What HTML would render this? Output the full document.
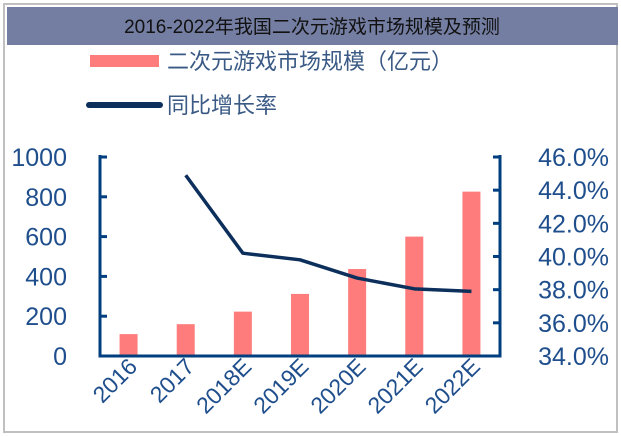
<!DOCTYPE html>
<html><head><meta charset="utf-8"><style>
body{margin:0;background:#fff;}
#wrap{position:relative;width:621px;height:436px;overflow:hidden;font-family:"Liberation Sans","Noto Sans CJK SC",sans-serif;}
</style></head><body>
<div id="wrap">
<svg width="621" height="436" xmlns="http://www.w3.org/2000/svg">
<rect x="4" y="4" width="613" height="428" fill="#fff" stroke="#c0c0c0" stroke-width="2"/>
<rect x="7" y="7" width="611" height="38" fill="#747ea2"/>
<text x="312" y="33" text-anchor="middle" font-size="19" fill="#111" font-family="Liberation Sans, Noto Sans CJK SC, sans-serif">2016-2022年我国二次元游戏市场规模及预测</text>
<rect x="90" y="55" width="69" height="12" fill="#ff7c7c"/>
<text x="167" y="69" font-size="22" fill="#3a5a85" font-family="Liberation Sans, Noto Sans CJK SC, sans-serif">二次元游戏市场规模（亿元）</text>
<line x1="89" y1="105" x2="160" y2="105" stroke="#0d2f5c" stroke-width="6" stroke-linecap="round"/>
<text x="167" y="113" font-size="22" fill="#3a5a85" font-family="Liberation Sans, Noto Sans CJK SC, sans-serif">同比增长率</text>
<g id="plot"></g>
</svg>
</div>
<script>
const categories=["2016","2017","2018E","2019E","2020E","2021E","2022E"];
const marketSize=[110,160,223,312,437,600,826];
const growthRate=[null,44.9,40.2,39.8,38.7,38.05,37.9];
const leftTicks=[0,200,400,600,800,1000];
const rightTicks=[34,36,38,40,42,44,46];

const NS="http://www.w3.org/2000/svg";
const g=document.getElementById('plot');
const L=100,R=500,T=157,B=356;
const yL=v=>B-(v/1000)*(B-T);
const yR=v=>B-((v-34)/12)*(B-T);
const step=(R-L)/categories.length;
const xC=i=>L+step*(i+0.5);
function mk(t,a){const e=document.createElementNS(NS,t);for(const k in a)e.setAttribute(k,a[k]);g.appendChild(e);return e;}

categories.forEach((c,i)=>{
  const r=mk('rect',{x:xC(i)-9,y:yL(marketSize[i]),width:18,height:B-yL(marketSize[i]),fill:'#ff7c7c'});
  
  
  const tx=xC(i)+10, ty=B+12;
  const t=mk('text',{x:tx,y:ty,'font-size':23,fill:'#1f4e8c','text-anchor':'end',transform:`rotate(-45 ${tx} ${ty})`});
  t.textContent=c;
  
  
});
let d='';
growthRate.forEach((v,i)=>{if(v==null)return;d+=(d?'L':'M')+xC(i)+' '+yR(v)+' ';});
const line=mk('path',{d:d,fill:'none',stroke:'#0d2f5c','stroke-width':3.5,'stroke-linejoin':'round'});



const ax=mk('path',{d:`M${L} ${T-2}V${B}H${R}V${T-2}`,fill:'none',stroke:'#003f7f','stroke-width':3});


leftTicks.forEach(v=>{
  const tk=mk('line',{x1:L,x2:L+7,y1:yL(v),y2:yL(v),stroke:'#003f7f','stroke-width':3});
  
  
  const t=mk('text',{x:67,y:yL(v)+9,'font-size':25,fill:'#1f4e8c','text-anchor':'end'});
  t.textContent=v;
  
  
});
rightTicks.forEach(v=>{
  const tk=mk('line',{x1:R-7,x2:R,y1:yR(v),y2:yR(v),stroke:'#003f7f','stroke-width':3});
  
  
  const t=mk('text',{x:609,y:yR(v)+9,'font-size':25,fill:'#1f4e8c','text-anchor':'end'});
  t.textContent=v.toFixed(1)+'%';
  
  
});
</script>
</body></html>
